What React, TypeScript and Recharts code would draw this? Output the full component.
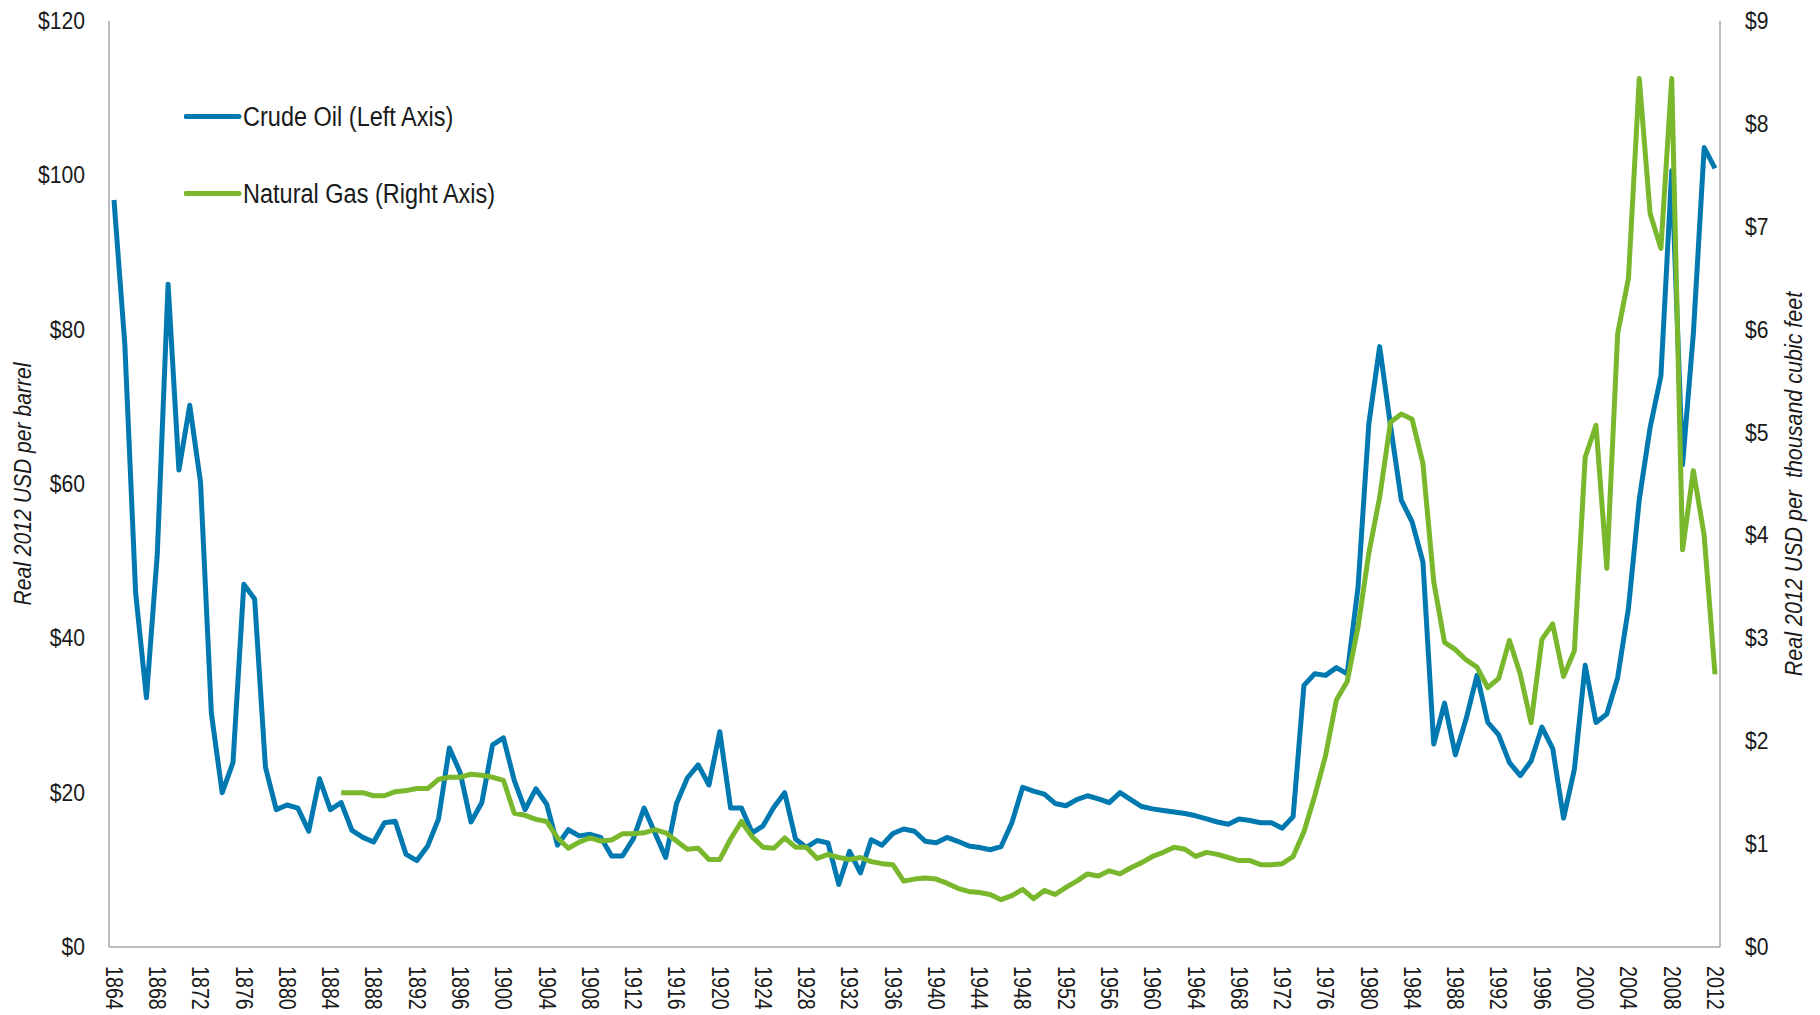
import { LineChart, Line, XAxis, YAxis, Legend } from "recharts"

const FONT = "'Liberation Sans', Arial, sans-serif"
const OIL_COLOR = "#0079B1"
const GAS_COLOR = "#79B72C"
const AXIS_COLOR = "#A6A6A6"
const TEXT_COLOR = "#1a1a1a"

const firstYear = 1864
const gasFirstYear = 1885
const years = Array.from({ length: 149 }, (_, i) => firstYear + i)

// real 2012 USD per barrel, 1864-2012
const crudeOil = [
  96.8, 78.1, 45.9, 32.3, 50.9, 85.9, 61.8, 70.2, 60.2, 30.3,
  20.0, 23.9, 47.0, 45.1, 23.3, 17.8, 18.4, 18.0, 15.0, 21.8,
  17.8, 18.7, 15.1, 14.2, 13.6, 16.1, 16.3, 12.0, 11.2, 13.1,
  16.6, 25.8, 22.6, 16.2, 18.7, 26.2, 27.1, 21.6, 17.8, 20.5,
  18.5, 13.2, 15.2, 14.4, 14.6, 14.2, 11.8, 11.8, 14.0, 18.0,
  14.8, 11.6, 18.6, 21.9, 23.6, 21.0, 27.9, 18.0, 18.0, 14.8,
  15.7, 18.1, 20.0, 14.0, 12.9, 13.8, 13.5, 8.1, 12.4, 9.6,
  13.9, 13.2, 14.7, 15.3, 15.0, 13.7, 13.5, 14.2, 13.7, 13.1,
  12.9, 12.6, 13.0, 16.1, 20.7, 20.2, 19.8, 18.6, 18.3, 19.1,
  19.6, 19.2, 18.7, 20.0, 19.1, 18.2, 17.9, 17.7, 17.5, 17.3,
  17.0, 16.6, 16.2, 15.9, 16.6, 16.4, 16.1, 16.1, 15.4, 16.9,
  33.9, 35.4, 35.2, 36.2, 35.4, 46.6, 67.8, 77.8, 67.6, 57.9,
  55.1, 49.9, 26.3, 31.6, 24.9, 29.6, 35.2, 29.1, 27.5, 23.9,
  22.2, 24.1, 28.5, 25.7, 16.7, 23.0, 36.5, 29.1, 30.2, 34.9,
  43.9, 58.0, 67.3, 74.0, 100.6, 62.5, 79.5, 103.6, 100.9,
]

// real 2012 USD per thousand cubic feet, 1885-2012
const naturalGas = [
  1.50, 1.50, 1.50, 1.47, 1.47, 1.51, 1.52, 1.54, 1.54, 1.63,
  1.65, 1.65, 1.68, 1.67, 1.65, 1.62, 1.30, 1.28, 1.24, 1.22,
  1.06, 0.96, 1.02, 1.06, 1.03, 1.04, 1.10, 1.10, 1.11, 1.14,
  1.11, 1.03, 0.95, 0.96, 0.85, 0.85, 1.05, 1.22, 1.07, 0.97,
  0.96, 1.06, 0.97, 0.97, 0.86, 0.90, 0.87, 0.85, 0.87, 0.83,
  0.81, 0.80, 0.64, 0.66, 0.67, 0.66, 0.62, 0.57, 0.54, 0.53,
  0.51, 0.46, 0.50, 0.56, 0.47, 0.55, 0.51, 0.58, 0.64, 0.71,
  0.69, 0.74, 0.71, 0.77, 0.82, 0.88, 0.92, 0.97, 0.95, 0.88,
  0.92, 0.90, 0.87, 0.84, 0.84, 0.80, 0.80, 0.81, 0.88, 1.12,
  1.47, 1.86, 2.40, 2.58, 3.11, 3.83, 4.37, 5.10, 5.18, 5.13,
  4.70, 3.55, 2.96, 2.89, 2.79, 2.72, 2.52, 2.61, 2.98, 2.65,
  2.18, 2.99, 3.14, 2.63, 2.88, 4.76, 5.07, 3.68, 5.96, 6.50,
  8.44, 7.13, 6.79, 8.44, 3.86, 4.63, 4.00, 2.65,
]

const leftTicks = [0, 20, 40, 60, 80, 100, 120]
const rightTicks = [0, 1, 2, 3, 4, 5, 6, 7, 8, 9]

const data = years.map((year, i) => ({
  year,
  oil: crudeOil[i],
  gas: year >= gasFirstYear ? naturalGas[year - gasFirstYear] : null,
}))

// the original uses a condensed face; squeeze Liberation Sans horizontally
const SQUEEZE = 0.82

function YearTick({ x, y, payload }: any) {
  return (
    <text
      transform={`translate(${x}, ${y}) rotate(90) scale(${SQUEEZE}, 1)`}
      textAnchor="start"
      dominantBaseline="central"
      fontFamily={FONT}
      fontSize={24}
      fill={TEXT_COLOR}
    >
      {payload.value}
    </text>
  )
}

function MoneyTick({ x, y, payload, anchor }: any) {
  return (
    <text
      transform={`translate(${x}, ${y}) scale(0.88, 1)`}
      textAnchor={anchor}
      dominantBaseline="central"
      fontFamily={FONT}
      fontSize={24}
      fill={TEXT_COLOR}
    >
      {`$${payload.value}`}
    </text>
  )
}

function axisTitle(text: string, dx: number, squeeze: number) {
  return (props: any) => {
    const vb = props.viewBox || {}
    const cx = (vb.x ?? 0) + dx
    const cy = (vb.y ?? 13) + (vb.height ?? 926) / 2
    return (
      <text
        transform={`translate(${cx}, ${cy}) rotate(-90) scale(${squeeze}, 1)`}
        textAnchor="middle"
        dominantBaseline="central"
        fontFamily={FONT}
        fontStyle="italic"
        fontSize={24}
        fill={TEXT_COLOR}
        style={{ whiteSpace: "pre" }}
      >
        {text}
      </text>
    )
  }
}

function LegendBox({ payload }: any) {
  const items = payload || []
  return (
    <svg width={420} height={160} style={{ display: "block" }}>
      {items.map((item: any, i: number) => {
        const cy = 38.5 + i * 77
        return (
          <g key={item.value}>
            <line
              x1={2}
              x2={55}
              y1={cy}
              y2={cy}
              stroke={item.color}
              strokeWidth={5}
              strokeLinecap="round"
            />
            <text
              transform={`translate(59, ${cy}) scale(0.84, 1)`}
              dominantBaseline="central"
              fontFamily={FONT}
              fontSize={28}
              fill={TEXT_COLOR}
            >
              {item.value}
            </text>
          </g>
        )
      })}
    </svg>
  )
}

export default function App() {
  return (
    <LineChart
      width={1804}
      height={1007}
      data={data}
      margin={{ top: 13, right: 0, bottom: 0, left: 0 }}
    >
      <XAxis
        dataKey="year"
        interval={3}
        height={68}
        padding={{ left: 5, right: 5 }}
        tickLine={false}
        tickSize={0}
        tickMargin={19}
        axisLine={{ stroke: AXIS_COLOR, strokeWidth: 1.5 }}
        tick={<YearTick />}
      />
      <YAxis
        yAxisId="left"
        width={101}
        domain={[0, 120]}
        ticks={leftTicks}
        tickLine={false}
        tickSize={0}
        tickMargin={24}
        axisLine={{ stroke: AXIS_COLOR, strokeWidth: 1.5 }}
        tick={<MoneyTick anchor="end" />}
        label={axisTitle("Real 2012 USD per barrel", 15, 0.88)}
      />
      <YAxis
        yAxisId="right"
        orientation="right"
        width={92}
        domain={[0, 9]}
        ticks={rightTicks}
        tickLine={false}
        tickSize={0}
        tickMargin={25}
        axisLine={{ stroke: AXIS_COLOR, strokeWidth: 1.5 }}
        tick={<MoneyTick anchor="start" />}
        label={axisTitle("Real 2012 USD per  thousand cubic feet", 74, 0.895)}
      />
      <Legend
        layout="vertical"
        align="center"
        verticalAlign="middle"
        content={<LegendBox />}
        wrapperStyle={{ left: 176, top: 70, width: 420 }}
      />
      <Line
        yAxisId="left"
        dataKey="oil"
        name="Crude Oil (Left Axis)"
        stroke={OIL_COLOR}
        strokeWidth={5}
        strokeLinejoin="round"
        dot={false}
        activeDot={false}
        isAnimationActive={false}
      />
      <Line
        yAxisId="right"
        dataKey="gas"
        name="Natural Gas (Right Axis)"
        stroke={GAS_COLOR}
        strokeWidth={5}
        strokeLinejoin="round"
        dot={false}
        activeDot={false}
        isAnimationActive={false}
      />
    </LineChart>
  )
}
